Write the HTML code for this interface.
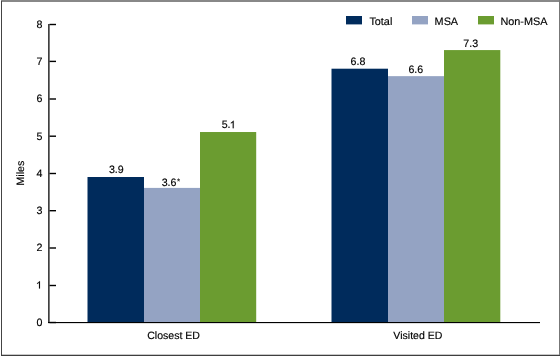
<!DOCTYPE html><html><head><meta charset="utf-8"><style>html,body{margin:0;padding:0;background:#fff;}svg{display:block;will-change:transform;}text{text-rendering:geometricPrecision;font-family:"Liberation Sans",sans-serif;font-size:10.67px;fill:#000;stroke:#000;stroke-width:0.15px;}</style></head><body>
<svg width="560" height="356" viewBox="0 0 560 356">
<rect x="0" y="0" width="560" height="356" fill="#fff"/>
<rect x="1" y="0" width="559" height="2" fill="#888"/>
<rect x="1" y="1" width="1" height="355" fill="#444"/>
<rect x="559" y="0" width="1" height="356" fill="#777"/>
<rect x="2" y="354" width="557" height="1" fill="#c8c8c8"/>
<rect x="1" y="355" width="559" height="1" fill="#3e3e3e"/>
<rect x="87.5" y="177.001" width="56.50" height="144.999" fill="#002b5c"/>
<rect x="144" y="187.900" width="56.00" height="134.100" fill="#94a3c3"/>
<rect x="200" y="132.025" width="56.20" height="189.975" fill="#6b9c30"/>
<rect x="331.5" y="68.700" width="56.50" height="253.300" fill="#002b5c"/>
<rect x="388" y="76.150" width="56.00" height="245.850" fill="#94a3c3"/>
<rect x="444" y="50.075" width="56.30" height="271.925" fill="#6b9c30"/>
<rect x="48" y="24" width="1" height="299" fill="#404040"/>
<rect x="49" y="24" width="1" height="299" fill="#7a7a7a"/>
<rect x="48" y="322" width="492" height="1" fill="#000"/>
<rect x="48" y="323" width="492" height="1" fill="#dedede"/>
<rect x="49.5" y="321.800" width="6.5" height="1.4" fill="#000"/>
<text x="42.5" y="325.80" text-anchor="end">0</text>
<rect x="49.5" y="284.800" width="6.5" height="1.4" fill="#000"/>
<path transform="translate(35.960,288.550) scale(0.005210,-0.005210)" d="M763 0L583 0L583 1101Q518 1041 412 982Q307 923 223 893L223 1060Q374 1128 487 1225Q600 1322 647 1413L763 1413Z" fill="#000" stroke="#000" stroke-width="28.8"/>
<rect x="49.5" y="247.300" width="6.5" height="1.4" fill="#000"/>
<text x="42.5" y="251.30" text-anchor="end">2</text>
<rect x="49.5" y="210.000" width="6.5" height="1.4" fill="#000"/>
<text x="42.5" y="214.05" text-anchor="end">3</text>
<rect x="49.5" y="172.800" width="6.5" height="1.4" fill="#000"/>
<text x="42.5" y="176.80" text-anchor="end">4</text>
<rect x="49.5" y="135.500" width="6.5" height="1.4" fill="#000"/>
<text x="42.5" y="139.55" text-anchor="end">5</text>
<rect x="49.5" y="98.300" width="6.5" height="1.4" fill="#000"/>
<text x="42.5" y="102.30" text-anchor="end">6</text>
<rect x="49.5" y="60.700" width="6.5" height="1.4" fill="#000"/>
<text x="42.5" y="65.05" text-anchor="end">7</text>
<rect x="49.5" y="23.800" width="6.5" height="1.4" fill="#000"/>
<text x="42.5" y="27.80" text-anchor="end">8</text>
<text x="108.90" y="172.70">3.9</text>
<text x="161.70" y="185.50">3.6</text>
<text x="221.70" y="128.20">5.</text>
<path transform="translate(229.690,128.200) scale(0.005210,-0.005210)" d="M763 0L583 0L583 1101Q518 1041 412 982Q307 923 223 893L223 1060Q374 1128 487 1225Q600 1322 647 1413L763 1413Z" fill="#000" stroke="#000" stroke-width="28.8"/>
<text x="350.55" y="65.10">6.8</text>
<text x="408.40" y="72.70">6.6</text>
<text x="463.30" y="46.50">7.3</text>
<text x="176.9" y="183.9" style="font-size:8px">*</text>
<text x="173.6" y="338.7" text-anchor="middle" style="font-size:10.55px">Closest ED</text>
<text x="417.9" y="338.7" text-anchor="middle" style="font-size:10.55px">Visited ED</text>
<text transform="translate(24.0,173.1) rotate(-90)" text-anchor="middle">Miles</text>
<rect x="346" y="16" width="16" height="8.4" fill="#002b5c"/>
<text x="369.4" y="24.6" style="font-size:10.85px">Total</text>
<rect x="412" y="16" width="16" height="8.4" fill="#94a3c3"/>
<text x="434.6" y="24.6" style="font-size:10.85px">MSA</text>
<rect x="478" y="16" width="16" height="8.4" fill="#6b9c30"/>
<text x="500.45" y="24.6" style="font-size:10.85px">Non-MSA</text>
</svg></body></html>
